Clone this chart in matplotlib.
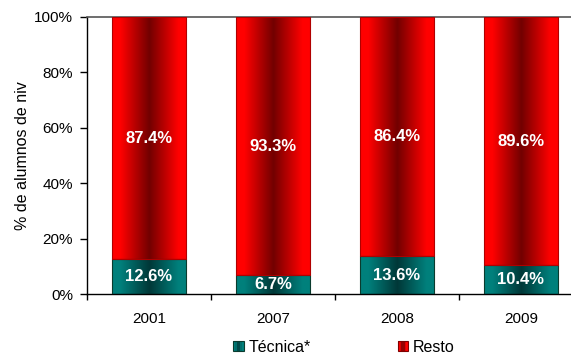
import numpy as np
import matplotlib
matplotlib.use("Agg")
import matplotlib.pyplot as plt
from matplotlib.colors import LinearSegmentedColormap
from matplotlib.patches import Rectangle
from matplotlib.legend_handler import HandlerBase
from matplotlib.ticker import FuncFormatter

plt.rcParams['font.family'] = ['Liberation Sans', 'DejaVu Sans']

years = ['2001', '2007', '2008', '2009']
tecnica = [12.6, 6.7, 13.6, 10.4]
resto = [87.4, 93.3, 86.4, 89.6]
series_names = ['Técnica*', 'Resto']

red_edge, red_mid = '#FF0000', '#720000'
teal_edge, teal_mid = '#00807C', '#003838'


def shade_profile(n=200):
    # bright at the sides, dark in the middle (cylinder-like shading)
    x = np.linspace(-1, 1, n)
    t = np.clip(1 - np.abs(x) / 0.78, 0, 1)
    return t


def gradient_cmap(edge, mid):
    return LinearSegmentedColormap.from_list('g', [edge, mid])


fig = plt.figure(figsize=(5.71, 3.56), dpi=100)
W, H = 571, 356
left, right, top, bottom = 87, 583, 17, 294
ax = fig.add_axes([left / W, 1 - bottom / H, (right - left) / W, (bottom - top) / H])

xs = np.arange(len(years))
bw = 0.6

prof = shade_profile()[None, :]

bars_t = ax.bar(xs, tecnica, bw, color='none', edgecolor='#0B3B2E', linewidth=0.8, zorder=3)
bars_r = ax.bar(xs, resto, bw, bottom=tecnica, color='none', edgecolor='#B00000', linewidth=0.8, zorder=3)

for bars, cmap in ((bars_t, gradient_cmap(teal_edge, teal_mid)),
                   (bars_r, gradient_cmap(red_edge, red_mid))):
    for b in bars:
        x0, y0 = b.get_x(), b.get_y()
        im = ax.imshow(prof, cmap=cmap, vmin=0, vmax=1, aspect='auto',
                       extent=(x0, x0 + b.get_width(), y0, y0 + b.get_height()),
                       zorder=2, interpolation='bilinear')
        im.set_clip_path(b)

for i in xs:
    ax.text(i, tecnica[i] / 2, f'{tecnica[i]:.1f}%', ha='center', va='center',
            color='white', fontsize=12, fontweight='bold', zorder=4)
    ax.text(i, tecnica[i] + resto[i] / 2, f'{resto[i]:.1f}%', ha='center', va='center',
            color='white', fontsize=12, fontweight='bold', zorder=4)

ax.set_xlim(-0.5, len(years) - 0.5)
ax.set_ylim(0, 100)
ax.set_yticks(np.arange(0, 101, 20))
ax.yaxis.set_major_formatter(FuncFormatter(lambda v, p: f'{int(v)}%'))
ax.set_xticks(xs)
ax.set_xticklabels(years)
ax.set_xticks(np.arange(-0.5, len(years), 1), minor=True)
ax.tick_params(axis='x', which='major', length=0, pad=13, labelsize=11)
ax.tick_params(axis='x', which='minor', length=4, width=1, direction='out')
ax.tick_params(axis='y', length=5, width=1, direction='out', labelsize=11, pad=5)
ax.set_ylabel('% de alumnos de niv', fontsize=11.5, labelpad=3)

ax.spines['right'].set_visible(False)
ax.spines['top'].set_color('#555555')
ax.spines['top'].set_linewidth(1.2)
ax.spines['left'].set_linewidth(1)
ax.spines['bottom'].set_linewidth(1)


class GradientHandler(HandlerBase):
    def __init__(self, edge, mid, border):
        super().__init__()
        self.edge, self.mid, self.border = edge, mid, border

    def create_artists(self, legend, orig_handle, xdescent, ydescent,
                       width, height, fontsize, trans):
        s = min(width, height)
        x0 = -xdescent + (width - s)
        y0 = -ydescent + (height - s) / 2
        cmap = gradient_cmap(self.edge, self.mid)
        n = 6
        arts = []
        p = shade_profile(n)
        for k in range(n):
            r = Rectangle((x0 + k * s / n, y0), s / n, s, facecolor=cmap(p[k]),
                          edgecolor='none', transform=trans)
            arts.append(r)
        arts.append(Rectangle((x0, y0), s, s, facecolor='none', edgecolor=self.border,
                              linewidth=0.8, transform=trans))
        return arts


h_t = Rectangle((0, 0), 1, 1)
h_r = Rectangle((0, 0), 1, 1)
fig.legend([h_t, h_r], series_names,
           handler_map={h_t: GradientHandler(teal_edge, teal_mid, '#0B3B2E'),
                        h_r: GradientHandler(red_edge, red_mid, '#800000')},
           loc='center', bbox_to_anchor=(344 / W, 1 - 347 / H), ncol=2,
           frameon=False, fontsize=11.5, handlelength=0.65, handleheight=0.65,
           handletextpad=0.3, columnspacing=5.45, borderpad=0)

fig.savefig('out.png', dpi=100)
